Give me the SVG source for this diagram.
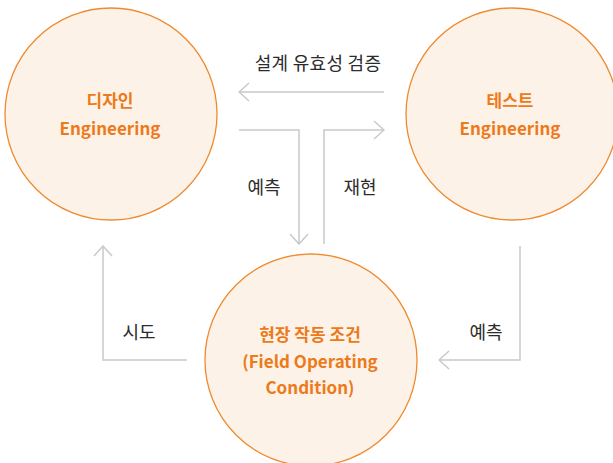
<svg xmlns="http://www.w3.org/2000/svg" width="613" height="463" viewBox="0 0 613 463">
<defs>
<style>
.node{fill:#fdf2e8;stroke:#ef8a2f;stroke-width:1.3}
.nt{font-family:"Noto Sans CJK KR","Noto Sans",sans-serif;font-size:17px;font-weight:bold;fill:#ec7a1a;text-anchor:middle}
.lb{font-family:"Noto Sans CJK KR","Noto Sans",sans-serif;font-size:18px;fill:#2b2b2b;text-anchor:middle}
.cn{fill:none;stroke:#c9c9c9;stroke-width:1.5}
</style>
<marker id="ah" viewBox="0 0 12 20" refX="11" refY="10" markerWidth="12" markerHeight="20" markerUnits="userSpaceOnUse" orient="auto">
<path d="M1,1 L11,10 L1,19" fill="none" stroke="#c9c9c9" stroke-width="1.5"/>
</marker>
</defs>
<g id="connectors">
<path class="cn" d="M384,92 H239" marker-end="url(#ah)"/>
<path class="cn" d="M239,130 H299 V244" marker-end="url(#ah)"/>
<path class="cn" d="M324,244 V130 H384" marker-end="url(#ah)"/>
<path class="cn" d="M520,246 V360 H439" marker-end="url(#ah)"/>
<path class="cn" d="M187,360 H103 V246" marker-end="url(#ah)"/>
</g>
<g id="labels">
<text class="lb" x="318" y="70" style="letter-spacing:0.3px">설계 유효성 검증</text>
<text class="lb" x="264" y="194">예측</text>
<text class="lb" x="360" y="194">재현</text>
<text class="lb" x="139" y="339">시도</text>
<text class="lb" x="486" y="339">예측</text>
</g>
<g id="design">
<circle class="node" cx="111" cy="114" r="106"/>
<text class="nt" x="110" y="107">디자인</text>
<text class="nt" x="110" y="135">Engineering</text>
</g>
<g id="test">
<circle class="node" cx="512" cy="114" r="106"/>
<text class="nt" x="510" y="107">테스트</text>
<text class="nt" x="510" y="135">Engineering</text>
</g>
<g id="field">
<circle class="node" cx="311" cy="360" r="106"/>
<text class="nt" x="310" y="341">현장 작동 조건</text>
<text class="nt" x="310" y="368">(Field Operating</text>
<text class="nt" x="310" y="394">Condition)</text>
</g>
</svg>
